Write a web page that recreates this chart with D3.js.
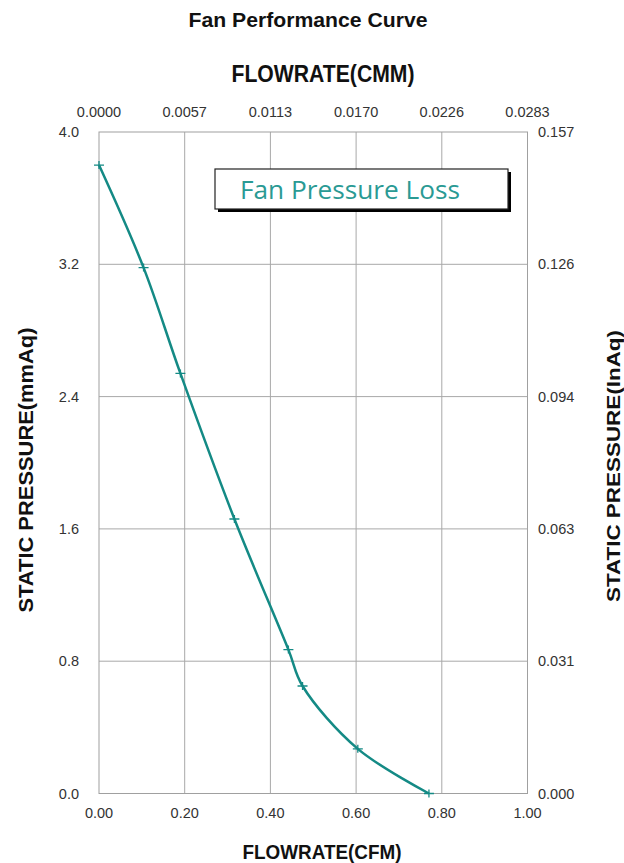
<!DOCTYPE html>
<html><head><meta charset="utf-8">
<script src="https://cdn.jsdelivr.net/npm/d3@7"></script>
<style>body{margin:0;background:#fff}svg{display:block}</style>
</head><body>
<svg id="c" width="624" height="863"></svg>
<script>
const flowCFM = [0, 0.104, 0.19, 0.316, 0.442, 0.475, 0.604, 0.77];
const pressureMmAq = [3.8, 3.18, 2.54, 1.66, 0.87, 0.65, 0.27, 0];
const xTicks = [0, 0.2, 0.4, 0.6, 0.8, 1.0];
const xTopLabels = ["0.0000", "0.0057", "0.0113", "0.0170", "0.0226", "0.0283"];
const yTicks = [0, 0.8, 1.6, 2.4, 3.2, 4.0];
const yRightLabels = ["0.000", "0.031", "0.063", "0.094", "0.126", "0.157"];
const seriesName = "Fan Pressure Loss";

const svg = d3.select("#c");
const L = 99, T = 132, W = 428.5, H = 661.5;
const x = d3.scaleLinear().domain([0, 1]).range([L, L + W]);
const y = d3.scaleLinear().domain([0, 4]).range([T + H, T]);
const lineCol = "#148A85";
const txt = "#333";
const tickFont = 14.5;

// grid
svg.append("g").selectAll("line").data(xTicks.slice(1, -1)).join("line")
  .attr("x1", d => x(d)).attr("x2", d => x(d)).attr("y1", T).attr("y2", T + H)
  .attr("stroke", "#a8a8a8").attr("stroke-width", 1);
svg.append("g").selectAll("line").data(yTicks.slice(1, -1)).join("line")
  .attr("x1", L).attr("x2", L + W).attr("y1", d => y(d)).attr("y2", d => y(d))
  .attr("stroke", "#a8a8a8").attr("stroke-width", 1);
svg.append("rect").attr("x", L).attr("y", T).attr("width", W).attr("height", H)
  .attr("fill", "none").attr("stroke", "#a0a0a0").attr("stroke-width", 1);

const fmt2 = d3.format(".2f"), fmt1 = d3.format(".1f");
// bottom ticks
svg.append("g").selectAll("text").data(xTicks).join("text")
  .attr("x", d => x(d)).attr("y", 818).attr("text-anchor", "middle")
  .attr("font-family", "Liberation Sans, Arial").attr("font-size", tickFont).attr("fill", txt)
  .text(d => fmt2(d));
// top ticks
svg.append("g").selectAll("text").data(xTicks).join("text")
  .attr("x", d => x(d)).attr("y", 117).attr("text-anchor", "middle")
  .attr("font-family", "Liberation Sans, Arial").attr("font-size", tickFont).attr("fill", txt)
  .text((d, i) => xTopLabels[i]);
// left ticks
svg.append("g").selectAll("text").data(yTicks).join("text")
  .attr("x", 79).attr("y", d => y(d) + 5).attr("text-anchor", "end")
  .attr("font-family", "Liberation Sans, Arial").attr("font-size", tickFont).attr("fill", txt)
  .text(d => fmt1(d));
// right ticks
svg.append("g").selectAll("text").data(yTicks).join("text")
  .attr("x", 538).attr("y", d => y(d) + 5).attr("text-anchor", "start")
  .attr("font-family", "Liberation Sans, Arial").attr("font-size", tickFont).attr("fill", txt)
  .text((d, i) => yRightLabels[i]);

function bold(xp, yp, s, size, len, rot) {
  const t = svg.append("text").attr("text-anchor", "middle")
    .attr("font-family", "Liberation Sans, Arial").attr("font-weight", "bold")
    .attr("font-size", size).attr("fill", "#111")
    .attr("textLength", len).attr("lengthAdjust", "spacingAndGlyphs").text(s);
  if (rot) t.attr("transform", `translate(${xp},${yp}) rotate(-90)`);
  else t.attr("x", xp).attr("y", yp);
}
bold(308, 27, "Fan Performance Curve", 21, 239);
bold(323, 82, "FLOWRATE(CMM)", 23, 183);
bold(322, 859, "FLOWRATE(CFM)", 21, 159);
bold(33, 470, "STATIC PRESSURE(mmAq)", 20, 285, true);
bold(620, 466, "STATIC PRESSURE(InAq)", 19, 272, true);

// line
const pts = flowCFM.map((f, i) => [f, pressureMmAq[i]]);
svg.append("path").datum(pts)
  .attr("d", d3.line().x(d => x(d[0])).y(d => y(d[1])).curve(d3.curveCatmullRom.alpha(0.5)))
  .attr("fill", "none").attr("stroke", lineCol).attr("stroke-width", 2.5);
svg.append("g").selectAll("path").data(pts).join("path")
  .attr("d", d => `M${x(d[0]) - 5},${y(d[1])}H${x(d[0]) + 5}M${x(d[0])},${y(d[1]) - 4}V${y(d[1]) + 4}`)
  .attr("stroke", lineCol).attr("stroke-width", 1.3).attr("fill", "none");

// legend box
const lg = svg.append("g");
lg.append("rect").attr("x", 218).attr("y", 172).attr("width", 293).attr("height", 40)
  .attr("fill", "#000");
lg.append("rect").attr("x", 215).attr("y", 169).attr("width", 293).attr("height", 40)
  .attr("fill", "#fff").attr("stroke", "#222").attr("stroke-width", 1.2);
lg.append("text").attr("x", 240).attr("y", 199)
  .attr("font-family", "Open Sans, Noto Sans, sans-serif").attr("font-size", 25)
  .attr("fill", "#2A9A94").attr("textLength", 220).attr("lengthAdjust", "spacingAndGlyphs")
  .text(seriesName);
</script>
</body></html>
